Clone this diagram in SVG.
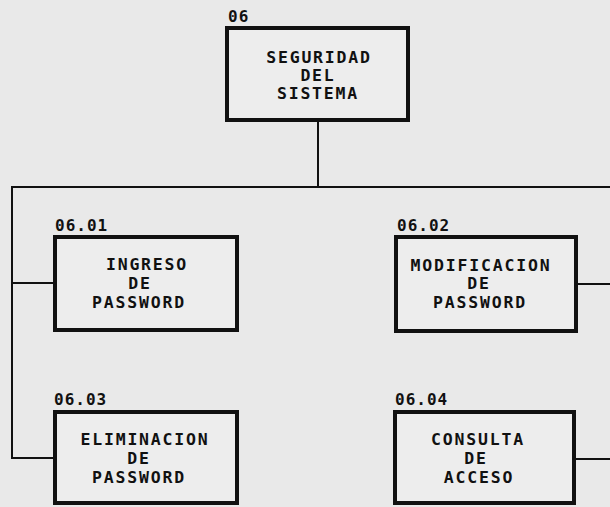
<svg xmlns="http://www.w3.org/2000/svg" width="610" height="507" viewBox="0 0 610 507">
<style>
.bg{fill:#e9e9e9}
.box{fill:#ededed;stroke:#111;stroke-width:4}
.ln{fill:none;stroke:#111;stroke-width:2}
text{font-family:"DejaVu Sans Mono","Liberation Mono",monospace;font-weight:bold;fill:#111}
.t{font-size:16.5px;letter-spacing:1.8px;text-anchor:middle}
.id{font-size:16px;letter-spacing:1px}
</style>
<rect class="bg" x="0" y="0" width="610" height="507"/>
<g id="connectors">
<line class="ln" x1="318" y1="120" x2="318" y2="187"/>
<line class="ln" x1="11" y1="187" x2="610" y2="187"/>
<polyline class="ln" points="12,187 12,458 55,458"/>
<line class="ln" x1="12" y1="283" x2="55" y2="283"/>
<line class="ln" x1="576" y1="284" x2="610" y2="284"/>
<line class="ln" x1="574" y1="459" x2="610" y2="459"/>
</g>
<g id="n06">
<text class="id" x="228" y="22">06</text>
<rect class="box" x="227" y="28" width="181" height="92"/>
<text class="t" x="319" y="63">SEGURIDAD</text>
<text class="t" x="318" y="81">DEL</text>
<text class="t" x="318" y="99">SISTEMA</text>
</g>
<g id="n0601">
<text class="id" x="55" y="231">06.01</text>
<rect class="box" x="55" y="237" width="182" height="93"/>
<text class="t" x="147" y="270">INGRESO</text>
<text class="t" x="140" y="289">DE</text>
<text class="t" x="139" y="308">PASSWORD</text>
</g>
<g id="n0602">
<text class="id" x="397" y="231">06.02</text>
<rect class="box" x="396" y="237" width="180" height="94"/>
<text class="t" x="481" y="271">MODIFICACION</text>
<text class="t" x="479" y="289">DE</text>
<text class="t" x="480" y="308">PASSWORD</text>
</g>
<g id="n0603">
<text class="id" x="54" y="405">06.03</text>
<rect class="box" x="55" y="412" width="182" height="91"/>
<text class="t" x="145" y="445">ELIMINACION</text>
<text class="t" x="139" y="464">DE</text>
<text class="t" x="139" y="483">PASSWORD</text>
</g>
<g id="n0604">
<text class="id" x="395" y="405">06.04</text>
<rect class="box" x="395" y="412" width="179" height="91"/>
<text class="t" x="478" y="445">CONSULTA</text>
<text class="t" x="476" y="464">DE</text>
<text class="t" x="479" y="483">ACCESO</text>
</g>
</svg>
